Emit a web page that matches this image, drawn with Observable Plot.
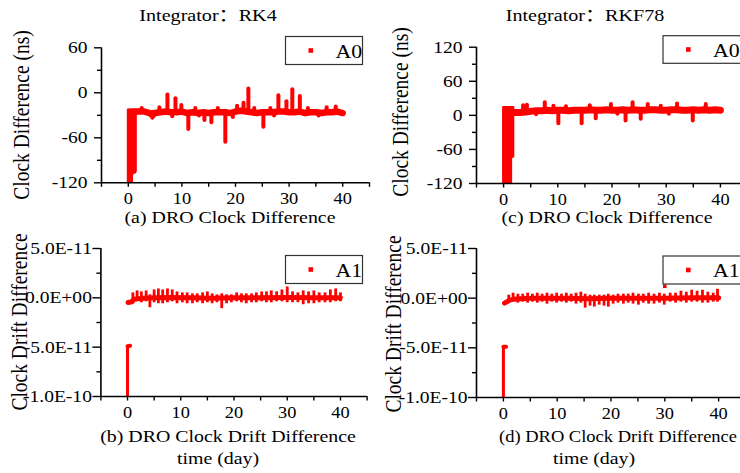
<!DOCTYPE html>
<html><head><meta charset="utf-8">
<script src="https://cdn.jsdelivr.net/npm/d3@7"></script>
<script src="https://cdn.jsdelivr.net/npm/@observablehq/plot@0.6"></script>
<style>
html,body{margin:0;padding:0;width:740px;height:473px;overflow:hidden;background:#fff;}
#root{position:relative;width:740px;height:473px;overflow:hidden;background:#fff;}
#root > svg{position:absolute;}
</style></head><body><div id="root"></div>
<script>
// ---------- data ----------
const xTickVals = [-5, 0, 5, 10, 15, 20, 25, 30, 35, 40, 45];
const xTickLabels = ["", "0", "", "10", "", "20", "", "30", "", "40", ""];

const a0Ticks = [-120, -60, 0, 60];
const a0TickLabels = ["-120", "-60", "0", "60"];
const a0MinorTicks = [-90, -30, 30];
const c0Ticks = [-120, -60, 0, 60, 120];
const c0TickLabels = ["-120", "-60", "0", "60", "120"];
const c0MinorTicks = [-90, -30, 30, 90];
const a1Ticks = [-1e-10, -5e-11, 0, 5e-11];
const a1TickLabels = ["-1.0E-10", "-5.0E-11", "0.0E+00", "5.0E-11"];
const a1MinorTicks = [-7.5e-11, -2.5e-11, 2.5e-11];

// (a) RK4 clock difference A0 (ns)
const rk4InitT = [0, 0.1, 0.2, 0.3, 0.4, 0.5, 0.6, 0.7, 0.8, 0.9, 1.0, 1.1, 1.2, 1.3];
const rk4InitLow = [-120, -120, -120, -120, -120, -120, -120, -110, -108, -108, -108, -108, -108, -106];
const rk4InitTop = -22;
const rk4T = [1.3, 2, 3, 4, 4.5, 5, 6, 7, 8, 9, 10, 11, 12, 13, 14, 15, 16, 17, 18, 19, 20, 21, 22, 23, 24, 25, 26, 27, 28, 29, 30, 31, 32, 33, 34, 35, 36, 37, 38, 39, 40];
const rk4V = [-25, -25, -25, -27, -30, -27, -26, -25, -26, -26, -25, -27, -26, -27, -26, -27, -26, -26, -26, -27, -25, -24, -25, -26, -27, -26, -26, -26, -25, -25, -26, -26, -25, -27, -26, -26, -27, -26, -26, -25, -27];
const rk4Base = -26;
const rk4SpikeT = [2.5, 5.8, 7.3, 8.8, 9.9, 12.5, 16.7, 20.3, 21.5, 22.4, 23.5, 26.5, 28, 29.5, 30.6, 32, 33.5, 37, 38.7, 4.5, 8.2, 11.2, 13.2, 14.2, 15.5, 18.1, 19.5, 25.2, 27.2, 35.5];
const rk4SpikeV = [-21, -20, -3, -8, -17, -21, -21, -18, -14, 5, -21, -21, -4, -12, 4, -5, -21, -20, -19, -34, -32, -49, -31, -37, -40, -66, -33, -46, -31, -31];

// (c) RKF78 clock difference A0 (ns)
const rkfInitT = [0, 0.1, 0.2, 0.3, 0.4, 0.5, 0.6, 0.7, 0.8, 0.9, 1.0, 1.1, 1.2, 1.3, 1.4, 1.5, 1.6, 1.7];
const rkfInitLow = [-120, -120, -120, -120, -120, -120, -120, -120, -120, -120, -120, -120, -120, -120, -75, -75, -75, -75];
const rkfInitTop = 15;
const rkfT = [1.7, 2, 3, 4, 5, 6, 7, 8, 9, 10, 11, 12, 13, 14, 15, 16, 17, 18, 19, 20, 21, 22, 23, 24, 25, 26, 27, 28, 29, 30, 31, 32, 33, 34, 35, 36, 37, 38, 39, 40];
const rkfV = [6, 5, 5, 6, 7, 8, 8, 9, 8, 9, 9, 8, 9, 9, 9, 10, 9, 9, 10, 9, 9, 10, 9, 10, 9, 9, 10, 10, 9, 9, 10, 10, 9, 9, 10, 9, 10, 9, 10, 9];
const rkfBase = 9;
const rkfSpikeT = [3.6, 4.3, 7.6, 9.2, 11.5, 15.9, 19.8, 23.8, 26.6, 29, 32, 37.3, 10.1, 14.4, 17, 22.5, 25.3, 34.9, 6, 21, 30.5];
const rkfSpikeV = [17, 18, 22, 16, 15, 17, 19, 22, 19, 16, 20, 19, -15, -15, -6, -10, -7, -10, 1, 2, 2];

// (b) RK4 clock drift difference A1
const rk4DriftInitT = [0, 0.5];
const rk4DriftInitV = [-4.9e-11, -4.85e-11];
const rk4DriftBottom = -1e-10;
const rk4DriftT = [0.1, 0.8, 1.2, 2, 3, 5, 8, 12, 16, 20, 25, 30, 35, 40];
const rk4DriftV = [-4.8e-12, -4e-12, -1.5e-12, -1e-12, -0.5e-12, 0, 0.3e-12, 0, -0.3e-12, 0, 0, 0.3e-12, 0.2e-12, 0];
const rk4DriftSpikeT = [1.0, 1.8, 2.6, 3.5, 4.2, 5.0, 5.8, 6.6, 7.5, 8.4, 9.3, 10.3, 11.2, 12.2, 13.1, 14.1, 15.0, 15.9, 16.8, 17.7, 18.6, 19.5, 20.5, 21.4, 22.3, 23.3, 24.2, 25.2, 26.1, 27.0, 28.0, 29.0, 30.0, 31.0, 32.0, 33.0, 34.0, 35.0, 36.0, 37.1, 38.1, 39.1, 40.0];
const rk4DriftHi = [5e-12, 7e-12, 6e-12, 7e-12, 3e-12, 8e-12, 9e-12, 8e-12, 9e-12, 8e-12, 6e-12, 5e-12, 5e-12, 4e-12, 4e-12, 5e-12, 6e-12, 4e-12, 3e-12, 4e-12, 3e-12, 3e-12, 5e-12, 4e-12, 4e-12, 4e-12, 5e-12, 6e-12, 6e-12, 7e-12, 6e-12, 8e-12, 11e-12, 6e-12, 5e-12, 7e-12, 6e-12, 7e-12, 5e-12, 5e-12, 8e-12, 9e-12, 5e-12];
const rk4DriftLo = [-6e-12, -3e-12, -5e-12, -4e-12, -10e-12, -5e-12, -6e-12, -6e-12, -5e-12, -4e-12, -6e-12, -5e-12, -6e-12, -6e-12, -5e-12, -6e-12, -5e-12, -6e-12, -5e-12, -11e-12, -6e-12, -5e-12, -4e-12, -5e-12, -6e-12, -5e-12, -5e-12, -4e-12, -5e-12, -5e-12, -4e-12, -4e-12, -5e-12, -5e-12, -5e-12, -7e-12, -6e-12, -6e-12, -5e-12, -5e-12, -5e-12, -4e-12, -4e-12];

// (d) RKF78 clock drift difference A1
const rkfDriftInitT = [0, 0.5];
const rkfDriftInitV = [-4.9e-11, -4.9e-11];
const rkfDriftBottom = -1e-10;
const rkfDriftT = [0.2, 0.7, 1.2, 2, 3, 5, 8, 12, 16, 20, 25, 30, 35, 40];
const rkfDriftV = [-5e-12, -3.5e-12, -2e-12, -1e-12, -0.5e-12, 0, 0, 0, -0.5e-12, 0, 0, 0, 0.3e-12, 0.3e-12];
const rkfDriftSpikeT = [1.0, 1.8, 2.7, 3.6, 4.5, 5.4, 6.3, 7.2, 8.1, 9.0, 9.9, 10.8, 11.7, 12.6, 13.5, 14.4, 15.2, 16.1, 16.9, 17.8, 18.7, 19.5, 20.4, 21.3, 22.3, 23.2, 24.1, 25.1, 26.0, 27.0, 28.0, 29.0, 29.9, 31.0, 32.0, 33.0, 34.0, 35.0, 36.0, 37.0, 38.0, 39.0, 39.8];
const rkfDriftHi = [3e-12, 5e-12, 4e-12, 4e-12, 5e-12, 4e-12, 5e-12, 4e-12, 5e-12, 4e-12, 5e-12, 4e-12, 5e-12, 4e-12, 5e-12, 6e-12, 4e-12, 3e-12, 3e-12, 3e-12, 3e-12, 4e-12, 3e-12, 4e-12, 4e-12, 4e-12, 5e-12, 4e-12, 4e-12, 5e-12, 4e-12, 5e-12, 4e-12, 5e-12, 5e-12, 7e-12, 6e-12, 8e-12, 7e-12, 8e-12, 6e-12, 5e-12, 9e-12];
const rkfDriftLo = [-5e-12, -3e-12, -5e-12, -4e-12, -5e-12, -4e-12, -5e-12, -4e-12, -6e-12, -4e-12, -5e-12, -4e-12, -5e-12, -4e-12, -6e-12, -5e-12, -10e-12, -8e-12, -9e-12, -7e-12, -8e-12, -9e-12, -6e-12, -5e-12, -6e-12, -5e-12, -6e-12, -7e-12, -5e-12, -6e-12, -6e-12, -5e-12, -7e-12, -4e-12, -5e-12, -4e-12, -5e-12, -4e-12, -4e-12, -5e-12, -5e-12, -4e-12, -4e-12];
const rkfDriftOutlierT = [30.0];
const rkfDriftOutlierV = [1.2e-11];

// ---------- helpers ----------
const SERIF = '"Liberation Serif","Times New Roman",Times,"Noto Sans CJK SC",serif';
const RED = "#ff0000";
const SX = 1.15; // horizontal stretch of the original picture
const zip = (keys, ...arrs) => arrs[0].map((_, i) => Object.fromEntries(keys.map((k, j) => [k, arrs[j][i]])));

function stretchText(svg, sel, sx) {
  svg.querySelectorAll(sel).forEach(t => {
    const tr = t.getAttribute("transform");
    if (tr) t.setAttribute("transform", tr + ` scale(${sx},1)`);
    else {
      const x = +(t.getAttribute("x") || 0);
      t.setAttribute("transform", `translate(${x},0) scale(${sx},1) translate(${-x},0)`);
    }
  });
}

function panel(o) {
  const xfmt = d => { const i = xTickVals.indexOf(d); return i < 0 ? "" : xTickLabels[i]; };
  const yfmt = d => { const i = o.yTicks.indexOf(d); return i < 0 ? "" : o.yLabels[i]; };
  const svg = Plot.plot({
    width: o.width, height: o.height,
    marginLeft: o.ml, marginRight: o.mr, marginTop: o.mt, marginBottom: o.mb,
    x: {domain: [-5, 45]},
    y: {domain: o.yDomain},
    style: {fontFamily: SERIF, fontSize: "17px", color: "#000", background: "transparent", overflow: "visible"},
    marks: [
      ...o.marks,
      Plot.ruleX([-5], {stroke: "#000", strokeWidth: 1.6}),
      Plot.ruleY([o.yDomain[0]], {stroke: "#000", strokeWidth: 1.6}),
      Plot.axisX(xTickVals, {tickSize: 4.5, tickPadding: 4.5, tickFormat: xfmt, label: null, strokeWidth: 1.4, fontSize: 17}),
      Plot.axisY(o.yMinor, {tickSize: 4, tickFormat: () => "", label: null, strokeWidth: 1.4}),
      Plot.axisY(o.yTicks, {tickSize: o.tickSizeY, tickPadding: o.tickPadY, tickFormat: yfmt, label: null, strokeWidth: 1.4})
    ]
  });
  stretchText(svg, 'g[aria-label="y-axis tick label"] text', SX);
  stretchText(svg, 'g[aria-label="x-axis tick label"] text', 1.08);
  svg.style.left = o.left + "px";
  svg.style.top = o.top + "px";
  document.getElementById("root").appendChild(svg);
}

function clockMarks(initT, initLow, initTop, t, v, base, spT, spV, lineW) {
  return [
    Plot.ruleX(zip(["t", "lo"], initT, initLow), {x: "t", y1: "lo", y2: initTop, stroke: RED, strokeWidth: 3}),
    Plot.line(zip(["t", "v"], t, v), {x: "t", y: "v", stroke: RED, strokeWidth: lineW, strokeLinejoin: "round", strokeLinecap: "round"}),
    Plot.ruleX(zip(["t", "v"], spT, spV), {x: "t", y1: base, y2: "v", stroke: RED, strokeWidth: 4, strokeLinecap: "round"})
  ];
}

function driftMarks(initT, initV, bottom, t, v, spT, hi, lo) {
  return [
    Plot.ruleX(zip(["t", "v"], initT.slice(0, 1), initV.slice(0, 1)), {x: "t", y1: bottom, y2: "v", stroke: RED, strokeWidth: 3}),
    Plot.line(zip(["t", "v"], initT, initV), {x: "t", y: "v", stroke: RED, strokeWidth: 4, strokeLinecap: "round"}),
    Plot.line(zip(["t", "v"], t, v), {x: "t", y: "v", stroke: RED, strokeWidth: 5, strokeLinejoin: "round", strokeLinecap: "round"}),
    Plot.ruleX(zip(["t", "hi", "lo"], spT, hi, lo), {x: "t", y1: "lo", y2: "hi", stroke: RED, strokeWidth: 2.8})
  ];
}

// (a)
panel({left: 0, top: 0, width: 370, height: 230, ml: 101, mr: 1, mt: 47.3, mb: 47.7,
  yDomain: [-120, 60], yTicks: a0Ticks, yLabels: a0TickLabels, yMinor: a0MinorTicks, tickSizeY: 7, tickPadY: 7,
  marks: clockMarks(rk4InitT, rk4InitLow, rk4InitTop, rk4T, rk4V, rk4Base, rk4SpikeT, rk4SpikeV, 6.5)});
// (c)
panel({left: 370, top: 0, width: 378, height: 230, ml: 106, mr: 1, mt: 46.7, mb: 47,
  yDomain: [-120, 120], yTicks: c0Ticks, yLabels: c0TickLabels, yMinor: c0MinorTicks, tickSizeY: 7, tickPadY: 7,
  marks: clockMarks(rkfInitT, rkfInitLow, rkfInitTop, rkfT, rkfV, rkfBase, rkfSpikeT, rkfSpikeV, 7)});
// (b)
panel({left: 0, top: 230, width: 370, height: 243, ml: 100.4, mr: 3.4, mt: 18, mb: 77,
  yDomain: [-1e-10, 5e-11], yTicks: a1Ticks, yLabels: a1TickLabels, yMinor: a1MinorTicks, tickSizeY: 8, tickPadY: 1,
  marks: driftMarks(rk4DriftInitT, rk4DriftInitV, rk4DriftBottom, rk4DriftT, rk4DriftV, rk4DriftSpikeT, rk4DriftHi, rk4DriftLo)});
// (d)
panel({left: 370, top: 230, width: 376, height: 243, ml: 106, mr: 1, mt: 18, mb: 76,
  yDomain: [-1e-10, 5e-11], yTicks: a1Ticks, yLabels: a1TickLabels, yMinor: a1MinorTicks, tickSizeY: 8, tickPadY: 1,
  marks: [
    ...driftMarks(rkfDriftInitT, rkfDriftInitV, rkfDriftBottom, rkfDriftT, rkfDriftV, rkfDriftSpikeT, rkfDriftHi, rkfDriftLo),
    Plot.dot(zip(["t", "v"], rkfDriftOutlierT, rkfDriftOutlierV), {x: "t", y: "v", symbol: "square", r: 2, fill: RED})
  ]});

// ---------- overlay: titles, axis titles, captions, legends ----------
const ov = d3.select("#root").append("svg")
  .attr("width", 740).attr("height", 473)
  .style("left", "0px").style("top", "0px")
  .style("font-family", SERIF);

function txt(x, y, s, size, rot, sx = SX) {
  const t = ov.append("text").text(s)
    .attr("font-size", size).attr("text-anchor", "middle").attr("fill", "#000");
  t.attr("transform", `translate(${x},${y}) scale(${sx},1)` + (rot ? ` rotate(${rot})` : ""));
}
txt(208, 20.7, "Integrator：RK4", 17.5);
txt(585, 20.7, "Integrator：RKF78", 17.5);
txt(29, 115, "Clock Difference (ns)", 19.5, -90);
txt(408, 112, "Clock Difference (ns)", 19.5, -90);
txt(27, 322, "Clock Drift Difference", 19.5, -90);
txt(401, 324, "Clock Drift Difference", 19.5, -90);
txt(230, 222.5, "(a) DRO Clock Difference", 17.3);
txt(607, 222.5, "(c) DRO Clock Difference", 17.3);
txt(228, 442, "(b) DRO Clock Drift Difference", 17.3);
txt(618, 442, "(d) DRO Clock Drift Difference", 17.3, 0, 1.07);
txt(218, 464, "time (day)", 17.3);
txt(594, 464, "time (day)", 17.3);

function legend(x, y, w, h, label) {
  ov.append("rect").attr("x", x).attr("y", y).attr("width", w).attr("height", h)
    .attr("fill", "#fff").attr("stroke", "#333").attr("stroke-width", 1.2);
  ov.append("rect").attr("x", x + 23).attr("y", y + h / 2 - 2.3).attr("width", 4.6).attr("height", 4.6).attr("fill", RED);
  ov.append("text").text(label).attr("font-size", 19)
    .attr("transform", `translate(${x + 50},${y + h / 2 + 7}) scale(${SX},1)`);
}
legend(285.5, 36.5, 77, 28, "A0");
legend(663, 35.7, 90, 27.6, "A0");
legend(285.5, 255.5, 77, 28, "A1");
legend(663, 256, 90, 28, "A1");
</script></body></html>
